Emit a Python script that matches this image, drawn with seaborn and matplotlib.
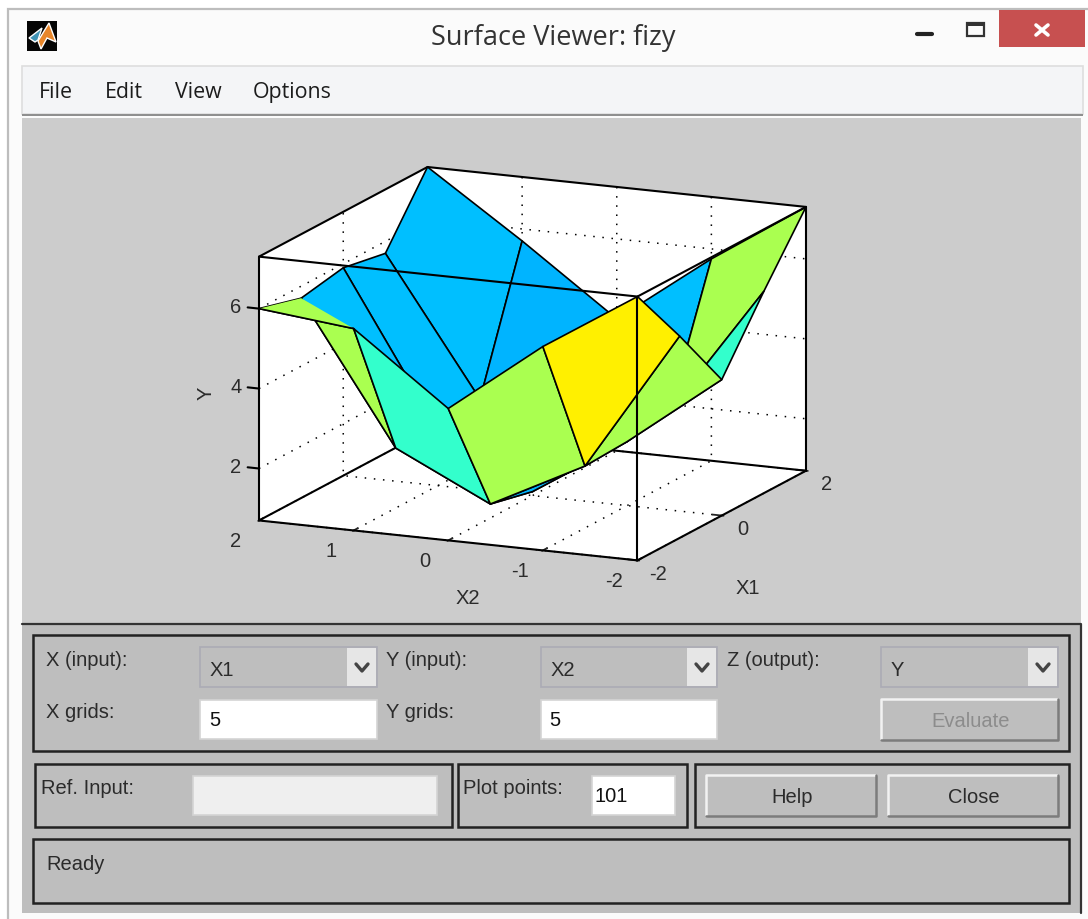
import numpy as np
import seaborn as sns
import matplotlib.pyplot as plt
from matplotlib.patches import Rectangle, Polygon
from mpl_toolkits.mplot3d import proj3d
from mpl_toolkits.mplot3d.art3d import Poly3DCollection

# surface values, rows follow X1, columns follow X2
x1_grid = [-2, -1, 0, 1, 2]
x2_grid = [-2, -1, 0, 1, 2]
y_row_m2 = [7.3, 5.8, 4.0, 5.75, 6.0]
y_row_m1 = [5.75, 2.25, 1.05, 2.2, 5.7]
y_row_0 = [4.1, 2.3, 0.8, 2.1, 5.9]
y_row_p1 = [5.75, 2.5, 1.1, 2.3, 5.7]
y_row_p2 = [7.3, 5.75, 4.0, 5.7, 7.3]

# flat colour of each facet
yellow, lime, teal, blue, blue2 = "#FFF000", "#AAFF50", "#33FFCC", "#00BFFF", "#00B4FF"
face_row_0 = [yellow, lime, teal, lime]
face_row_1 = [lime, blue2, blue, blue]
face_row_2 = [teal, blue, blue, blue]
face_row_3 = [lime, blue, blue2, blue]

x1_ticks = [-2, 0, 2]
x2_ticks = [-2, -1, 0, 1, 2]
y_ticks = [2, 4, 6]
menu_items = ["File", "Edit", "View", "Options"]

sns.set_style("white")
plt.rcParams["font.family"] = ["Liberation Sans", "DejaVu Sans"]
plt.rcParams["grid.color"] = "black"
plt.rcParams["grid.linewidth"] = 1.1
plt.rcParams["grid.linestyle"] = (0, (1, 5))

fig = plt.figure(figsize=(10.88, 9.19), dpi=100, facecolor="white")

# window chrome, in image pixels
ui = fig.add_axes([0, 0, 1, 1], zorder=0)
ui.set_xlim(0, 1088)
ui.set_ylim(919, 0)
ui.axis("off")


def box(x0, y0, x1, y1, fc="none", ec="none", lw=1.0):
    ui.add_patch(Rectangle((x0, y0), x1 - x0, y1 - y0, facecolor=fc, edgecolor=ec, linewidth=lw))


def label(x, y, s, size=14.5, color="#2b2b2b", ha="left", family=None, **kw):
    ui.text(x, y + 1, s, fontsize=size, color=color, ha=ha, va="center", family=family, **kw)


def dropdown(x0, x1, arrow_x, y0, y1, s):
    box(x0, y0, x1, y1, fc="#BEBEBE", ec="#ABABB5", lw=1.2)
    box(arrow_x, y0 + 1, x1 - 1, y1 - 1, fc="#E6E6E6")
    mid = (arrow_x + x1) / 2
    ui.plot([mid - 6, mid, mid + 6], [664, 671, 664], color="#444444", lw=2.4)
    label(x0 + 10, 669, s)


def button(x0, y0, x1, y1, s, color="#2b2b2b"):
    box(x0, y0, x1, y1, fc="#BEBEBE")
    ui.plot([x0, x0, x1], [y1, y0, y0], color="#F2F2F2", lw=1.8)
    ui.plot([x0, x1, x1], [y1, y1, y0], color="#7C7C7C", lw=1.8)
    label((x0 + x1) / 2 + 1, (y0 + y1) / 2 + 1, s, color=color, ha="center")


box(8, 9, 1100, 930, fc="#FBFBFB", ec="#BDBDBD", lw=1.6)
box(22, 66, 1083, 114, fc="#F4F5F7", ec="#DEDEDE", lw=1.2)
box(22, 114, 1083, 116, fc="#8F8F8F")
box(22, 118, 1081, 624, fc="#CCCCCC")
box(22, 624, 1081, 913, fc="#BEBEBE")
ui.plot([22, 1081, 1081], [624, 624, 913], color="#333333", lw=1.6)

# title bar
box(27, 21, 57, 51, fc="#050505")
ui.add_patch(Polygon([[38, 41], [49, 23], [56, 42], [47, 38], [41, 49]], fc="#E8862A"))
ui.add_patch(Polygon([[29, 38], [42, 28], [38, 40], [35, 42]], fc="#3F93B5"))
label(553, 37, "Surface Viewer: fizy", size=19.5, color="#333333", ha="center", family="Open Sans")
ui.plot([917, 932], [34, 34], color="#222222", lw=3)
box(967, 23, 984, 36, ec="#333333", lw=1.6)
box(967, 23, 984, 26, fc="#333333")
box(999, 10, 1085, 47, fc="#C75050")
ui.plot([1036, 1048], [25, 35], color="white", lw=2.6)
ui.plot([1036, 1048], [35, 25], color="white", lw=2.6)

for x, s in zip([39, 105, 175, 253], menu_items):
    ui.text(x, 98, s, fontsize=15.4, color="#1c1c1c", va="baseline", family="Open Sans")

# control frames
for x0, y0, x1, y1 in [(33, 635, 1069, 751), (35, 764, 452, 827), (458, 764, 687, 827),
                       (695, 764, 1069, 827), (33, 839, 1069, 903)]:
    box(x0, y0, x1, y1, ec="#222222", lw=1.8)

label(46, 660, "X (input):")
label(386, 660, "Y (input):")
label(727, 660, "Z (output):")
label(46, 712, "X grids:")
label(386, 712, "Y grids:")
dropdown(200, 377, 347, 647, 687, "X1")
dropdown(541, 717, 687, 647, 687, "X2")
dropdown(881, 1058, 1028, 647, 687, "Y")
box(200, 700, 377, 739, fc="white", ec="#D4D4D4", lw=1.2)
box(541, 700, 717, 739, fc="white", ec="#D4D4D4", lw=1.2)
label(209, 720, "5", color="#111111")
label(549, 720, "5", color="#111111")
button(881, 699, 1058, 740, "Evaluate", color="#8C8C8C")
label(41, 788, "Ref. Input:")
box(193, 776, 437, 815, fc="#EFEFEF", ec="#D4D4D4", lw=1.2)
label(463, 788, "Plot points:")
box(592, 776, 675, 815, fc="white", ec="#D4D4D4", lw=1.2)
label(595, 796, "101", color="#111111")
button(706, 775, 876, 816, "Help")
button(888, 775, 1058, 816, "Close")
label(46, 864, "Ready")

# 3D surface
x1, x2 = np.meshgrid(x1_grid, x2_grid, indexing="ij")
y = np.array([y_row_m2, y_row_m1, y_row_0, y_row_p1, y_row_p2])
face_rows = [face_row_0, face_row_1, face_row_2, face_row_3]
colors = np.array([sns.color_palette(row) for row in face_rows])

ax = fig.add_axes([(532 - 350) / 1088, 1 - (364 + 350) / 919, 700 / 1088, 700 / 919],
                  projection="3d", proj_type="ortho", computed_zorder=False, zorder=1)
ax.set_facecolor("none")
ax.view_init(elev=13.7, azim=-156)
ax.set_xlim(-2, 2, view_margin=0)
ax.set_ylim(-2, 2, view_margin=0)
ax.set_zlim(0.7, 7.3, view_margin=0)
ax.set_box_aspect((415, 415, 272), zoom=1.0)

surf = ax.plot_surface(x1, x2, y, facecolors=colors, rstride=1, cstride=1, shade=False,
                       linewidth=1.2, antialiased=True, zorder=2)
surf.set_edgecolor("black")

# the far corner facet folds over itself, its lime part sits on top of the blue
corner = [(x1[0, 4], x2[0, 4], y[0, 4]), (x1[1, 4], x2[1, 4], y[1, 4]), (x1[0, 3], x2[0, 3], y[0, 3])]
ax.add_collection3d(Poly3DCollection([corner], facecolors=lime, edgecolors="none", zorder=2.5))
ax.plot([x1[0, 4], x1[0, 3]], [x2[0, 4], x2[0, 3]], [y[0, 4], y[0, 3]], color="black", lw=1.2, zorder=2.6)

ax.set_xticks(x1_ticks)
ax.set_yticks(x2_ticks)
ax.set_zticks(y_ticks)
ax.set_xticklabels([])
ax.set_yticklabels([])
ax.set_zticklabels([])
ax.grid(True)
for axis in (ax.xaxis, ax.yaxis, ax.zaxis):
    axis.set_pane_color("white")
    axis.pane.set_edgecolor("none")
    axis.line.set_color("none")
    axis._axinfo["tick"]["inward_factor"] = 0.06
    axis._axinfo["tick"]["outward_factor"] = 0.3
    axis._axinfo["tick"]["linewidth"] = {True: 1.3, False: 0.8}
    axis._axinfo["tick"]["color"] = "black"
ax.zaxis._axinfo["tick"]["inward_factor"] = 0
ax.zaxis._axinfo["tick"]["outward_factor"] = 0

# axes box, the near edges stay over the surface
lo, hi = 0.7, 7.3
back = [([-2, 2], [2, 2], [lo, lo]), ([2, 2], [-2, 2], [lo, lo]), ([2, 2], [2, 2], [lo, hi]),
        ([-2, 2], [2, 2], [hi, hi]), ([2, 2], [-2, 2], [hi, hi])]
near = [([-2, -2], [-2, 2], [hi, hi]), ([-2, 2], [-2, -2], [hi, hi]), ([-2, -2], [-2, 2], [lo, lo]),
        ([-2, 2], [-2, -2], [lo, lo]), ([-2, -2], [-2, -2], [lo, hi]), ([-2, -2], [2, 2], [lo, hi]),
        ([2, 2], [-2, -2], [lo, hi])]
for xs, ys, zs in back:
    ax.plot(xs, ys, zs, color="black", lw=1.5, zorder=1)
for xs, ys, zs in near:
    ax.plot(xs, ys, zs, color="black", lw=1.5, zorder=3)
for t in y_ticks:
    ax.plot([-2, -2], [2, 2.12], [t, t], color="black", lw=1.5, zorder=3)


def corner_px(a, b, c):
    sx, sy, _ = proj3d.proj_transform(a, b, c, ax.get_proj())
    px, py = ax.transData.transform((sx, sy))
    return px, fig.bbox.height - py


# fit the box on the reference corners
fig.canvas.draw()
left = corner_px(-2, 2, lo)
right = corner_px(2, -2, lo)
ax.set_box_aspect((415, 415, 272), zoom=547 / (right[0] - left[0]))
fig.canvas.draw()
left = corner_px(-2, 2, lo)
top_back = corner_px(2, 2, hi)
pos = ax.get_position()
dx = (259 - left[0]) / 1088
dy = -(167 - top_back[1]) / 919
ax.set_position([pos.x0 + dx, pos.y0 + dy, pos.width, pos.height])
fig.canvas.draw()


# tick and axis labels hang off the projected tick positions
def tick_text(pos3d, off_x, off_y, s, **kw):
    px, py = corner_px(*pos3d)
    ui.text(px + off_x, py + off_y, s, fontsize=14.5, color="#2b2b2b", ha="center", va="center", **kw)


for t in x2_ticks:
    tick_text((-2, t, lo), -23, 21, str(t))
for t in x1_ticks:
    tick_text((t, -2, lo), 21, 14, str(t))
for t in y_ticks:
    tick_text((-2, 2, t), -23, -1, str(t))
tick_text((-2, 0, lo), 20, 58, "X2")
tick_text((0, -2, lo), 26, 73, "X1")
tick_text((-2, 2, 4), -53, 5, "Y", rotation=90)

fig.savefig("out.png", dpi=100)
